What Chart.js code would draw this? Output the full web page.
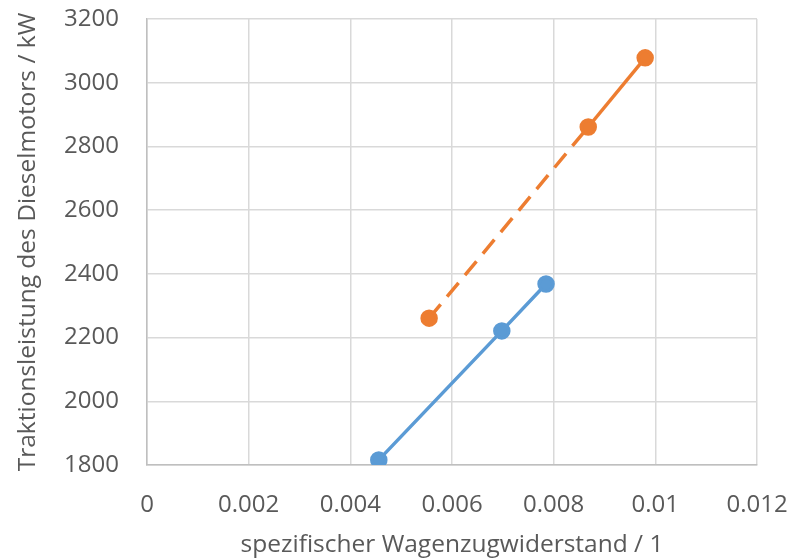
<!DOCTYPE html>
<html>
<head>
<meta charset="utf-8">
<script src="https://cdn.jsdelivr.net/npm/chart.js@4/dist/chart.umd.min.js"></script>
<style>
html,body{margin:0;padding:0;background:#fff;}
#wrap{width:795px;height:560px;}
</style>
</head>
<body>
<div id="wrap"><canvas id="c" width="795" height="560"></canvas></div>
<script>
const blueX = [0.00456, 0.00698, 0.00785];
const blueY = [1816, 2221, 2368];
const orangeX = [0.00555, 0.00868, 0.00980];
const orangeY = [2261, 2861, 3078];
const xTicks = [0, 0.002, 0.004, 0.006, 0.008, 0.01, 0.012];
const yTicks = [1800, 2000, 2200, 2400, 2600, 2800, 3000, 3200];
const xTitle = 'spezifischer Wagenzugwiderstand / 1';
const yTitle = 'Traktionsleistung des Dieselmotors / kW';

const toPts = (xs, ys) => xs.map((x, i) => ({x: x, y: ys[i]}));
const fam = "'Open Sans', 'Liberation Sans', sans-serif";
const textColor = '#595959';

new Chart(document.getElementById('c'), {
  type: 'scatter',
  data: {
    datasets: [
      {
        data: toPts(blueX, blueY),
        showLine: true,
        borderColor: '#5b9bd5',
        backgroundColor: '#5b9bd5',
        borderWidth: 3.5,
        pointRadius: 7,
        pointHoverRadius: 7
      },
      {
        data: toPts(orangeX, orangeY),
        showLine: true,
        borderColor: '#ed7d31',
        backgroundColor: '#ed7d31',
        borderWidth: 3.5,
        pointRadius: 7,
        pointHoverRadius: 7,
        segment: {
          borderDash: ctx => ctx.p0DataIndex === 0 ? [18, 10] : undefined
        }
      }
    ]
  },
  options: {
    responsive: false,
    animation: false,
    layout: {padding: {left: 13, right: 38, top: 19, bottom: 0}},
    plugins: {legend: {display: false}, tooltip: {enabled: false}},
    scales: {
      x: {
        type: 'linear',
        min: 0, max: 0.012,
        afterBuildTicks: s => { s.ticks = xTicks.map(v => ({value: v})); },
        ticks: {
          color: textColor, font: {family: fam, size: 24}, padding: 26,
          maxRotation: 0,
          callback: v => String(Number(v.toFixed(4)))
        },
        grid: {color: '#d9d9d9', lineWidth: 1.5, drawTicks: false},
        border: {color: '#bfbfbf', width: 1.5},
        title: {display: true, text: xTitle, color: textColor, font: {family: fam, size: 24.5}, padding: {top: 0, bottom: 0}},
        afterFit: s => { s.height = 95; s.paddingLeft = 0; s.paddingRight = 0; }
      },
      y: {
        type: 'linear',
        min: 1800, max: 3200,
        afterBuildTicks: s => { s.ticks = yTicks.map(v => ({value: v})); },
        ticks: {color: textColor, font: {family: fam, size: 24}, padding: 28, callback: v => String(v)},
        grid: {color: '#d9d9d9', lineWidth: 1.5, drawTicks: false},
        border: {color: '#bfbfbf', width: 1.5},
        title: {display: true, text: yTitle, color: textColor, font: {family: fam, size: 24.5}, padding: {top: 0, bottom: 0}},
        afterFit: s => { s.width = 134; s.paddingTop = 0; s.paddingBottom = 0; }
      }
    }
  }
});
</script>
</body>
</html>
